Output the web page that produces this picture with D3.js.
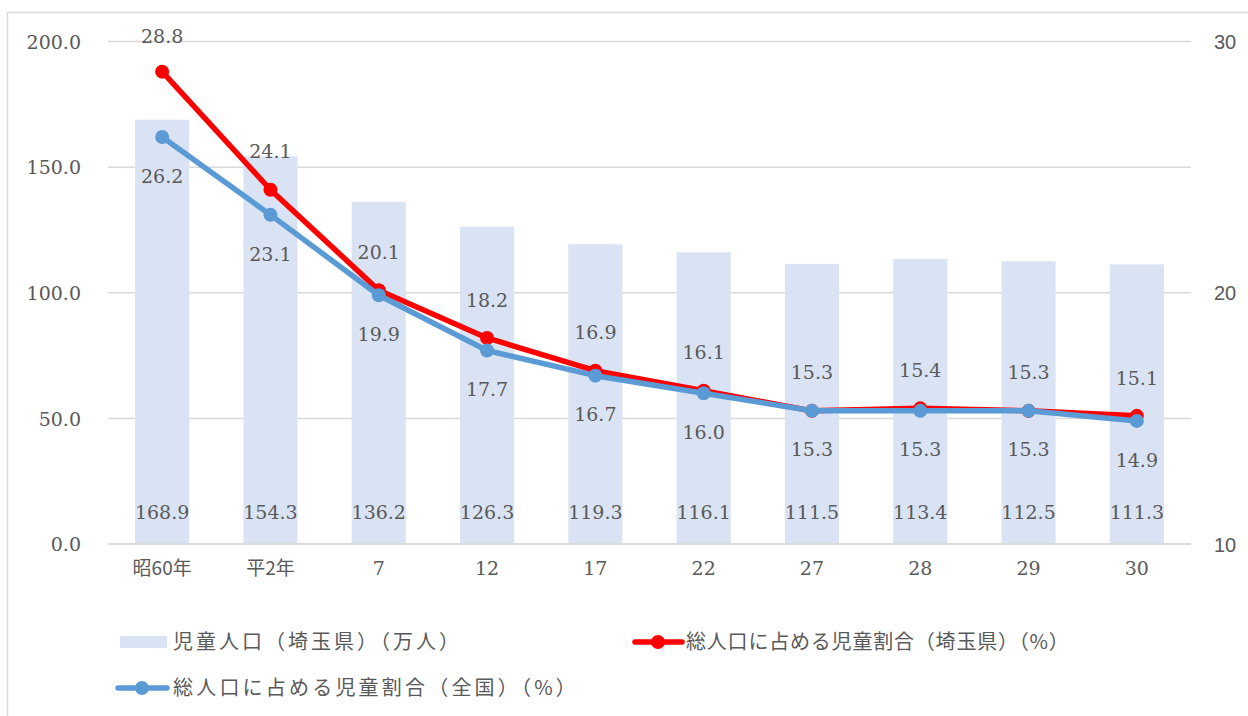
<!DOCTYPE html>
<html>
<head>
<meta charset="utf-8">
<script src="https://cdn.jsdelivr.net/npm/d3@7"></script>
<style>
  body { margin: 0; background: #fff; }
  svg { display: block; }
</style>
</head>
<body>
<svg id="chart" width="1248" height="716"></svg>
<script>
// categories (years) and values
const years = ["昭60年", "平2年", "7", "12", "17", "22", "27", "28", "29", "30"];
const childPop = [168.9, 154.3, 136.2, 126.3, 119.3, 116.1, 111.5, 113.4, 112.5, 111.3];
const ratioSaitama = [28.8, 24.1, 20.1, 18.2, 16.9, 16.1, 15.3, 15.4, 15.3, 15.1];
const ratioJapan = [26.2, 23.1, 19.9, 17.7, 16.7, 16.0, 15.3, 15.3, 15.3, 14.9];
const leftTicks = [0, 50, 100, 150, 200];
const rightTicks = [10, 20, 30];

const serif = "'DejaVu Serif', serif";
const jp = "'Noto Sans CJK JP', sans-serif";
const sans = "'Liberation Sans', Arial, sans-serif";
const textCol = "#595959";

const svg = d3.select("#chart");

// outer border of chart area
svg.append("rect")
  .attr("x", 7.5).attr("y", 12.5)
  .attr("width", 1260).attr("height", 720)
  .attr("fill", "none").attr("stroke", "#d9d9d9").attr("stroke-width", 1.5);

const x = d3.scaleBand().domain(years).range([108, 1191]).paddingInner(0.5).paddingOuter(0.25);
const yL = d3.scaleLinear().domain([0, 200]).range([544, 41.5]);
const yR = d3.scaleLinear().domain([10, 30]).range([544, 41.5]);

// gridlines
svg.append("g").selectAll("line").data(leftTicks).join("line")
  .attr("x1", 108).attr("x2", 1191)
  .attr("y1", d => yL(d)).attr("y2", d => yL(d))
  .attr("stroke", "#d9d9d9").attr("stroke-width", 1.5);

// left axis
const axL = svg.append("g").attr("transform", "translate(84,0)")
  .call(d3.axisLeft(yL).tickValues(leftTicks).tickFormat(d3.format(".1f")).tickSize(0));
axL.select(".domain").remove();
axL.selectAll("text").attr("font-family", serif).attr("font-size", 19).attr("fill", textCol).attr("dy", "0.35em");

// right axis
const axR = svg.append("g").attr("transform", "translate(1214,0)")
  .call(d3.axisRight(yR).tickValues(rightTicks).tickSize(0));
axR.select(".domain").remove();
axR.selectAll("text").attr("font-family", sans).attr("font-size", 20).attr("fill", textCol).attr("x", 0).attr("dy", "0.35em");

// bars
svg.append("g").selectAll("rect").data(childPop).join("rect")
  .attr("x", (d, i) => x(years[i]))
  .attr("width", x.bandwidth())
  .attr("y", d => yL(d))
  .attr("height", d => yL(0) - yL(d))
  .attr("fill", "#dae3f3");

// redraw baseline over bars
svg.append("line").attr("x1", 108).attr("x2", 1191).attr("y1", yL(0)).attr("y2", yL(0))
  .attr("stroke", "#d9d9d9").attr("stroke-width", 1.5);

// category labels
const axB = svg.append("g").attr("transform", "translate(0,568)")
  .call(d3.axisBottom(x).tickSize(0));
axB.select(".domain").remove();
axB.selectAll("text")
  .attr("font-family", d => /^\d+$/.test(d) ? serif : jp)
  .attr("font-size", 19).attr("fill", textCol).attr("y", 0).attr("dy", "0.35em");

// bar labels (inside base)
svg.append("g").selectAll("text").data(childPop).join("text")
  .attr("x", (d, i) => x(years[i]) + x.bandwidth() / 2)
  .attr("y", yL(0) - 32)
  .attr("dy", "0.35em")
  .attr("text-anchor", "middle")
  .attr("font-family", serif).attr("font-size", 19).attr("fill", textCol)
  .text(d => d.toFixed(1));

const cx = i => x(years[i]) + x.bandwidth() / 2;

function drawSeries(vals, color) {
  const line = d3.line().x((d, i) => cx(i)).y(d => yR(d));
  svg.append("path").datum(vals).attr("d", line)
    .attr("fill", "none").attr("stroke", color).attr("stroke-width", 5.5)
    .attr("stroke-linejoin", "round");
  svg.append("g").selectAll("circle").data(vals).join("circle")
    .attr("cx", (d, i) => cx(i)).attr("cy", d => yR(d)).attr("r", 7)
    .attr("fill", color);
}

drawSeries(ratioSaitama, "#ff0000");
drawSeries(ratioJapan, "#5b9bd5");

// line labels: Saitama above, Japan below
svg.append("g").selectAll("text").data(ratioSaitama).join("text")
  .attr("x", (d, i) => cx(i))
  .attr("y", d => Math.max(yR(d) - 38, 36))
  .attr("dy", "0.35em").attr("text-anchor", "middle")
  .attr("font-family", serif).attr("font-size", 19).attr("fill", textCol)
  .text(d => d.toFixed(1));

svg.append("g").selectAll("text").data(ratioJapan).join("text")
  .attr("x", (d, i) => cx(i))
  .attr("y", d => yR(d) + 39)
  .attr("dy", "0.35em").attr("text-anchor", "middle")
  .attr("font-family", serif).attr("font-size", 19).attr("fill", textCol)
  .text(d => d.toFixed(1));

// legend
const legend = svg.append("g").attr("font-family", jp).attr("font-size", 20).attr("fill", textCol);

legend.append("rect").attr("x", 120).attr("y", 636).attr("width", 47).attr("height", 12).attr("fill", "#dae3f3");
legend.append("text").attr("x", 173).attr("y", 642).attr("dy", "0.35em").attr("letter-spacing", 3)
  .text("児童人口（埼玉県）（万人）");

legend.append("line").attr("x1", 635).attr("x2", 682).attr("y1", 642).attr("y2", 642)
  .attr("stroke", "#ff0000").attr("stroke-width", 5.5).attr("stroke-linecap", "round");
legend.append("circle").attr("cx", 658).attr("cy", 642).attr("r", 7).attr("fill", "#ff0000");
legend.append("text").attr("x", 686).attr("y", 642).attr("dy", "0.35em").attr("letter-spacing", 0.8)
  .text("総人口に占める児童割合（埼玉県）（%）");

legend.append("line").attr("x1", 118).attr("x2", 167).attr("y1", 688).attr("y2", 688)
  .attr("stroke", "#5b9bd5").attr("stroke-width", 5.5).attr("stroke-linecap", "round");
legend.append("circle").attr("cx", 142).attr("cy", 688).attr("r", 7).attr("fill", "#5b9bd5");
legend.append("text").attr("x", 173).attr("y", 688).attr("dy", "0.35em").attr("letter-spacing", 3.2)
  .text("総人口に占める児童割合（全国）（%）");
</script>
</body>
</html>
